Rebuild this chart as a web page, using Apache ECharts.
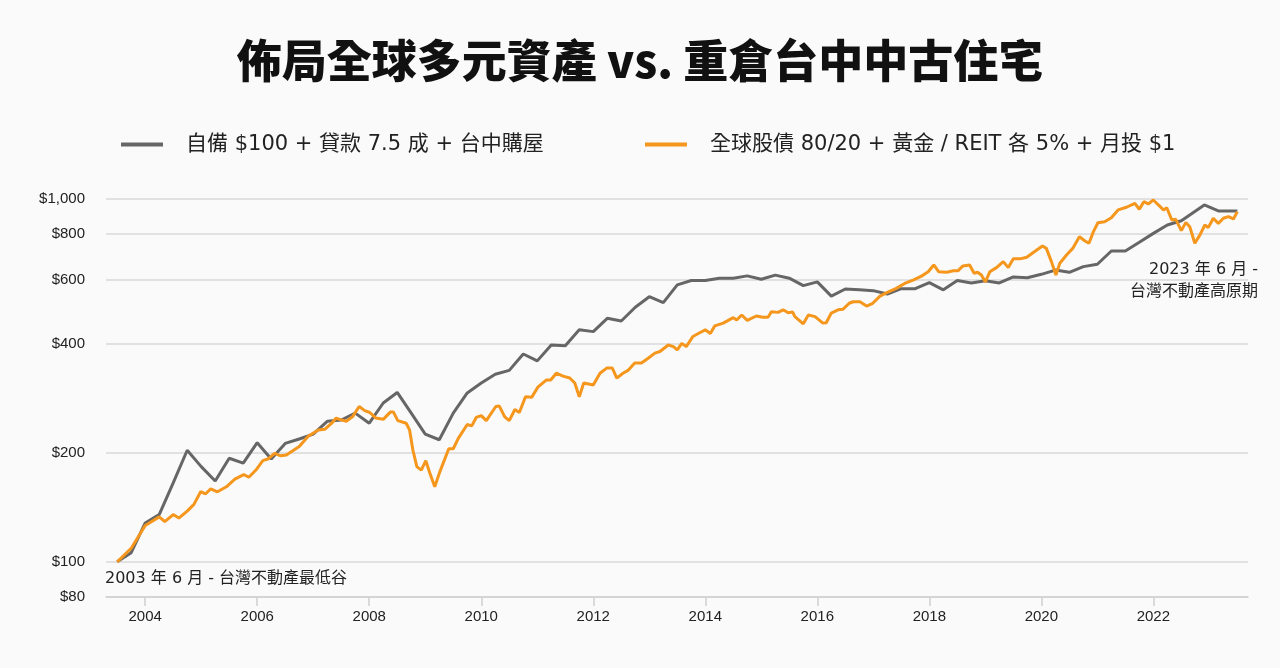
<!DOCTYPE html>
<html>
<head>
<meta charset="utf-8">
<script src="https://cdn.jsdelivr.net/npm/echarts@6/dist/echarts.min.js"></script>
<style>
  html, body { margin: 0; padding: 0; background: #fafafa; }
  #chart { width: 1280px; height: 668px; }
</style>
</head>
<body>
<div id="chart"></div>
<script>
// 自備 $100 + 貸款 7.5 成 + 台中購屋（季資料）
const grayYears = [
  2003.5, 2003.75, 2004, 2004.25, 2004.5, 2004.75, 2005, 2005.25, 2005.5, 2005.75,
  2006, 2006.25, 2006.5, 2006.75, 2007, 2007.25, 2007.5, 2007.75, 2008, 2008.25,
  2008.5, 2008.75, 2009, 2009.25, 2009.5, 2009.75, 2010, 2010.25, 2010.5, 2010.75,
  2011, 2011.25, 2011.5, 2011.75, 2012, 2012.25, 2012.5, 2012.75, 2013, 2013.25,
  2013.5, 2013.75, 2014, 2014.25, 2014.5, 2014.75, 2015, 2015.25, 2015.5, 2015.75,
  2016, 2016.25, 2016.5, 2016.75, 2017, 2017.25, 2017.5, 2017.75, 2018, 2018.25,
  2018.5, 2018.75, 2019, 2019.25, 2019.5, 2019.75, 2020, 2020.25, 2020.5, 2020.75,
  2021, 2021.25, 2021.5, 2021.75, 2022, 2022.25, 2022.5, 2022.91, 2023.16, 2023.5
]
const grayValues = [
  100, 106, 128, 135, 165, 203, 183, 167, 193, 187,
  213, 192, 212, 218, 225, 244, 246, 257, 241, 274,
  293, 257, 225, 217, 257, 292, 311, 329, 337, 374,
  358, 396, 394, 436, 431, 469, 461, 503, 538, 518,
  580, 596, 596, 605, 605, 614, 601, 617, 605, 577,
  591, 540, 565, 562, 559, 547, 566, 566, 588, 562,
  596, 587, 595, 587, 610, 607, 620, 637, 628, 651,
  661, 719, 719, 760, 804, 848, 871, 963, 927, 927
]

// 全球股債 80/20 + 黃金 / REIT 各 5% + 月投 $1
const orangeYears = [
  2003.50, 2003.75, 2004.00, 2004.25, 2004.35, 2004.50, 2004.60, 2004.75, 2004.87, 2004.99,
  2005.08, 2005.17, 2005.29, 2005.45, 2005.60, 2005.76, 2005.85, 2005.99, 2006.10, 2006.19,
  2006.31, 2006.42, 2006.52, 2006.75, 2006.91, 2007.09, 2007.21, 2007.33, 2007.41, 2007.47,
  2007.59, 2007.70, 2007.82, 2007.92, 2008.01, 2008.12, 2008.25, 2008.38, 2008.43, 2008.51,
  2008.66, 2008.72, 2008.78, 2008.85, 2008.93, 2009.01, 2009.08, 2009.17, 2009.26, 2009.42,
  2009.50, 2009.59, 2009.75, 2009.83, 2009.91, 2010.00, 2010.09, 2010.26, 2010.32, 2010.42,
  2010.50, 2010.60, 2010.68, 2010.79, 2010.90, 2011.01, 2011.16, 2011.24, 2011.34, 2011.46,
  2011.58, 2011.67, 2011.75, 2011.83, 2012.00, 2012.12, 2012.24, 2012.34, 2012.42, 2012.53,
  2012.62, 2012.74, 2012.86, 2012.98, 2013.10, 2013.19, 2013.34, 2013.43, 2013.50, 2013.58,
  2013.66, 2013.78, 2013.90, 2014.00, 2014.09, 2014.17, 2014.32, 2014.50, 2014.56, 2014.65,
  2014.75, 2014.91, 2015.03, 2015.12, 2015.18, 2015.30, 2015.39, 2015.48, 2015.56, 2015.60,
  2015.75, 2015.84, 2015.96, 2016.10, 2016.16, 2016.25, 2016.37, 2016.46, 2016.57, 2016.64,
  2016.76, 2016.88, 2016.99, 2017.12, 2017.24, 2017.41, 2017.56, 2017.71, 2017.86, 2017.98,
  2018.08, 2018.17, 2018.31, 2018.43, 2018.51, 2018.60, 2018.72, 2018.80, 2018.86, 2018.93,
  2019.00, 2019.08, 2019.20, 2019.32, 2019.41, 2019.50, 2019.62, 2019.74, 2019.85, 2020.02,
  2020.09, 2020.18, 2020.26, 2020.33, 2020.45, 2020.56, 2020.68, 2020.78, 2020.85, 2020.93,
  2021.01, 2021.13, 2021.25, 2021.37, 2021.52, 2021.67, 2021.75, 2021.83, 2021.91, 2022.00,
  2022.09, 2022.18, 2022.24, 2022.33, 2022.40, 2022.50, 2022.58, 2022.65, 2022.74, 2022.83,
  2022.92, 2022.98, 2023.07, 2023.16, 2023.25, 2023.34, 2023.43, 2023.50
]
const orangeValues = [
  100, 109, 126, 133, 129, 135, 132, 138, 144, 156,
  154, 159, 156, 161, 169, 174, 171, 180, 190, 192,
  199, 196, 197, 208, 222, 231, 232, 241, 249, 247,
  244, 251, 268, 261, 258, 249, 247, 259, 259, 245,
  241, 231, 203, 183, 179, 190, 176, 161, 177, 205,
  205, 219, 239, 237, 250, 253, 245, 268, 269, 251,
  245, 263, 258, 285, 284, 303, 317, 317, 331, 325,
  321, 311, 285, 311, 307, 331, 342, 342, 321, 331,
  337, 353, 353, 364, 376, 380, 396, 392, 384, 400,
  392, 418, 428, 436, 426, 447, 455, 471, 464, 479,
  463, 476, 472, 472, 489, 487, 495, 486, 488, 474,
  453, 479, 474, 455, 456, 485, 495, 497, 516, 521,
  521, 507, 516, 540, 552, 567, 585, 598, 613, 630,
  658, 630, 628, 634, 634, 654, 658, 624, 628, 617,
  591, 630, 647, 672, 647, 684, 684, 691, 711, 742,
  731, 672, 617, 665, 701, 731, 787, 766, 755, 813,
  860, 866, 888, 933, 949, 973, 937, 983, 969, 994,
  963, 933, 946, 875, 879, 818, 862, 839, 755, 795,
  848, 834, 885, 857, 885, 894, 881, 923
]

const yTicks = [80, 100, 200, 400, 600, 800, 1000]
const xTicks = [2004, 2006, 2008, 2010, 2012, 2014, 2016, 2018, 2020, 2022]

const grayName = '自備 $100 + 貸款 7.5 成 + 台中購屋'
const orangeName = '全球股債 80/20 + 黃金 / REIT 各 5% + 月投 $1'

// log scale: plot log10 of the dollar values on a value axis
const toLog = (years, values) => years.map((y, i) => [y, Math.log10(values[i])])
const logTicks = yTicks.map(v => Math.log10(v))

const chart = echarts.init(document.getElementById('chart'))

const textFont = "'DejaVu Sans', 'Noto Sans CJK TC'"
const legendText = {
  fontSize: 21,
  color: '#222',
  fontFamily: textFont,
  padding: [0, 0, 0, 18]
}

chart.setOption({
  backgroundColor: '#fafafa',
  animation: false,
  title: {
    text: '佈局全球多元資產 vs. 重倉台中中古住宅',
    left: 'center',
    top: 33,
    textStyle: {
      fontSize: 45,
      fontWeight: 900,
      color: '#111',
      fontFamily: 'Noto Sans CJK TC'
    }
  },
  legend: [
    { data: [grayName], left: 116, top: 129, icon: 'rect', itemWidth: 42, itemHeight: 4, textStyle: legendText },
    { data: [orangeName], left: 640, top: 129, icon: 'rect', itemWidth: 42, itemHeight: 4, textStyle: legendText }
  ],
  grid: {
    left: 106,
    right: 32,
    top: 199,
    bottom: 71,
    outerBoundsMode: 'none'
  },
  xAxis: {
    type: 'value',
    min: 2003.3,
    max: 2023.69,
    axisLine: { show: true, lineStyle: { color: '#cfcfcf', width: 1.5 } },
    axisTick: { show: true, customValues: xTicks, length: 9, lineStyle: { color: '#cfcfcf', width: 1.5 } },
    axisLabel: {
      customValues: xTicks,
      margin: 12,
      fontSize: 15,
      color: '#222',
      fontFamily: 'Liberation Sans',
      formatter: v => String(Math.round(v))
    },
    splitLine: { show: false }
  },
  yAxis: {
    type: 'value',
    min: Math.log10(80),
    max: 3,
    axisLine: { show: false },
    axisTick: { show: false, customValues: logTicks },
    axisLabel: {
      customValues: logTicks,
      margin: 21,
      fontSize: 15,
      color: '#222',
      fontFamily: 'Liberation Sans',
      formatter: v => '$' + Math.round(Math.pow(10, v)).toString().replace(/\B(?=(\d{3})+(?!\d))/g, ',')
    },
    splitLine: { show: true, lineStyle: { color: '#d9d9d9', width: 1.5 } }
  },
  series: [
    {
      name: grayName,
      type: 'line',
      data: toLog(grayYears, grayValues),
      showSymbol: false,
      lineStyle: { color: '#666666', width: 3 },
      itemStyle: { color: '#666666' }
    },
    {
      name: orangeName,
      type: 'line',
      data: toLog(orangeYears, orangeValues),
      showSymbol: false,
      lineStyle: { color: '#f5961d', width: 3 },
      itemStyle: { color: '#f5961d' }
    }
  ],
  graphic: [
    {
      type: 'text',
      x: 105,
      y: 579,
      style: { text: '2003 年 6 月 - 台灣不動產最低谷', font: '16px ' + textFont, fill: '#222', align: 'left', verticalAlign: 'middle' }
    },
    {
      type: 'text',
      x: 1258,
      y: 270,
      style: { text: '2023 年 6 月 -', font: '16px ' + textFont, fill: '#222', align: 'right', verticalAlign: 'middle' }
    },
    {
      type: 'text',
      x: 1258,
      y: 292,
      style: { text: '台灣不動產高原期', font: '16px ' + textFont, fill: '#222', align: 'right', verticalAlign: 'middle' }
    }
  ]
})

window.onresize = () => {
  chart.resize()
}
</script>
</body>
</html>
